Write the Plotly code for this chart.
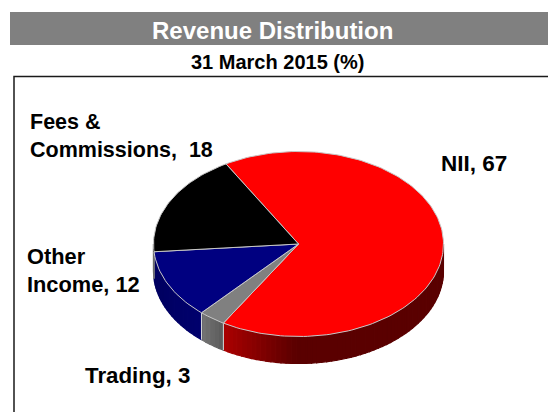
import math
import plotly.graph_objects as go

categories = ["NII", "Trading", "Other Income", "Fees & Commissions"]
values = [67, 3, 12, 18]
top_colors = ["#ff0000", "#808080", "#000080", "#000000"]
side_left = [(170, 0, 0), (116, 116, 116), (0, 0, 96), (0, 0, 0)]
side_right = [(90, 0, 0), (90, 90, 90), (0, 0, 110), (0, 0, 0)]

CX, CY, A, B, DEPTH = 298.5, 244, 145, 92.5, 27
START = -30


def pt(theta, dy=0):
    r = math.radians(theta)
    return CX + A * math.sin(r), CY - B * math.cos(r) + dy


def lerp(c1, c2, t):
    return "rgb(%d,%d,%d)" % tuple(round(a + (b - a) * t) for a, b in zip(c1, c2))


fig = go.Figure()
angle = START
spans = []
for v in values:
    spans.append((angle, angle + v * 3.6))
    angle += v * 3.6

# side wall: strips on the visible front half
for i, (a0, a1) in enumerate(spans):
    lo, hi = max(a0, 90), min(a1, 270)
    if hi <= lo:
        continue
    n = max(2, int((hi - lo) / 2))
    xl, xr = pt(hi)[0], pt(lo)[0]
    for k in range(n):
        t0 = lo + (hi - lo) * k / n
        t1 = lo + (hi - lo) * (k + 1) / n
        x0, y0 = pt(t0)
        x1, y1 = pt(t1)
        x2, y2 = pt(t1, DEPTH)
        x3, y3 = pt(t0, DEPTH)
        f = ((x0 + x1) / 2 - xl) / max(xr - xl, 1)
        f = min(1, f / 0.33) if i == 0 else f
        col = lerp(side_left[i], side_right[i], f)
        fig.add_trace(go.Scatter(x=[x0, x1, x2, x3, x0], y=[y0, y1, y2, y3, y0],
                                 mode="lines", fill="toself", fillcolor=col,
                                 line=dict(color=col, width=1.2),
                                 hoverinfo="skip", showlegend=False))

# pale seam down the wall at slice boundaries
for a in [s[0] for s in spans]:
    if 90 < a % 360 < 270:
        x0, y0 = pt(a)
        x1, y1 = pt(a, DEPTH)
        fig.add_trace(go.Scatter(x=[x0, x1], y=[y0, y1], mode="lines",
                                 line=dict(color="#d8d8d8", width=1),
                                 hoverinfo="skip", showlegend=False))

# top surface
for i, (a0, a1) in enumerate(spans):
    n = max(4, int((a1 - a0) / 1.5))
    pts = [pt(a0 + (a1 - a0) * k / n) for k in range(n + 1)]
    xs = [CX] + [p[0] for p in pts] + [CX]
    ys = [CY] + [p[1] for p in pts] + [CY]
    fig.add_trace(go.Scatter(x=xs, y=ys, mode="lines", fill="toself",
                             fillcolor=top_colors[i],
                             line=dict(color="#c8c8c8", width=1),
                             name=categories[i], hoverinfo="name", showlegend=False))

shapes = [
    dict(type="rect", xref="x", yref="y", x0=10, x1=548, y0=12, y1=45,
         fillcolor="#808080", line_width=0, layer="below"),
    dict(type="rect", xref="x", yref="y", x0=14, x1=570, y0=76.5, y1=430,
         fillcolor="rgba(0,0,0,0)", line=dict(color="#1a1a1a", width=1.5), layer="below"),
]


def note(text, x, y, size=21.5, color="black", anchor="center", align="center"):
    return dict(text=text, x=x, y=y, xref="x", yref="y", showarrow=False,
                xanchor=anchor, yanchor="middle", align=align,
                font=dict(family="Liberation Sans, Arial, sans-serif", size=size, color=color))


annotations = [
    note("<b>Revenue Distribution</b>", 272.5, 30, size=24, color="white"),
    note("<b>31 March 2015 (%)</b>", 277.5, 62, size=20),
    note("<b>NII, 67</b>", 439, 163, size=22.5, anchor="left"),
    note("<b>Fees &amp;<br>Commissions,  18</b>", 28, 136, anchor="left", align="left"),
    note("<b>Other<br>Income, 12</b>", 25, 270.5, size=21.8, anchor="left", align="left"),
    note("<b>Trading, 3</b>", 83, 375, size=22.3, anchor="left"),
]

fig.update_layout(
    width=548, height=412, margin=dict(l=0, r=0, t=0, b=0),
    paper_bgcolor="white", plot_bgcolor="white", showlegend=False,
    xaxis=dict(range=[0, 548], visible=False, fixedrange=True),
    yaxis=dict(range=[412, 0], visible=False, fixedrange=True),
    shapes=shapes, annotations=annotations,
)
fig.write_html("out.html", config=dict(displayModeBar=False),
               post_script="document.body.style.margin='0';document.body.style.overflow='hidden';")
